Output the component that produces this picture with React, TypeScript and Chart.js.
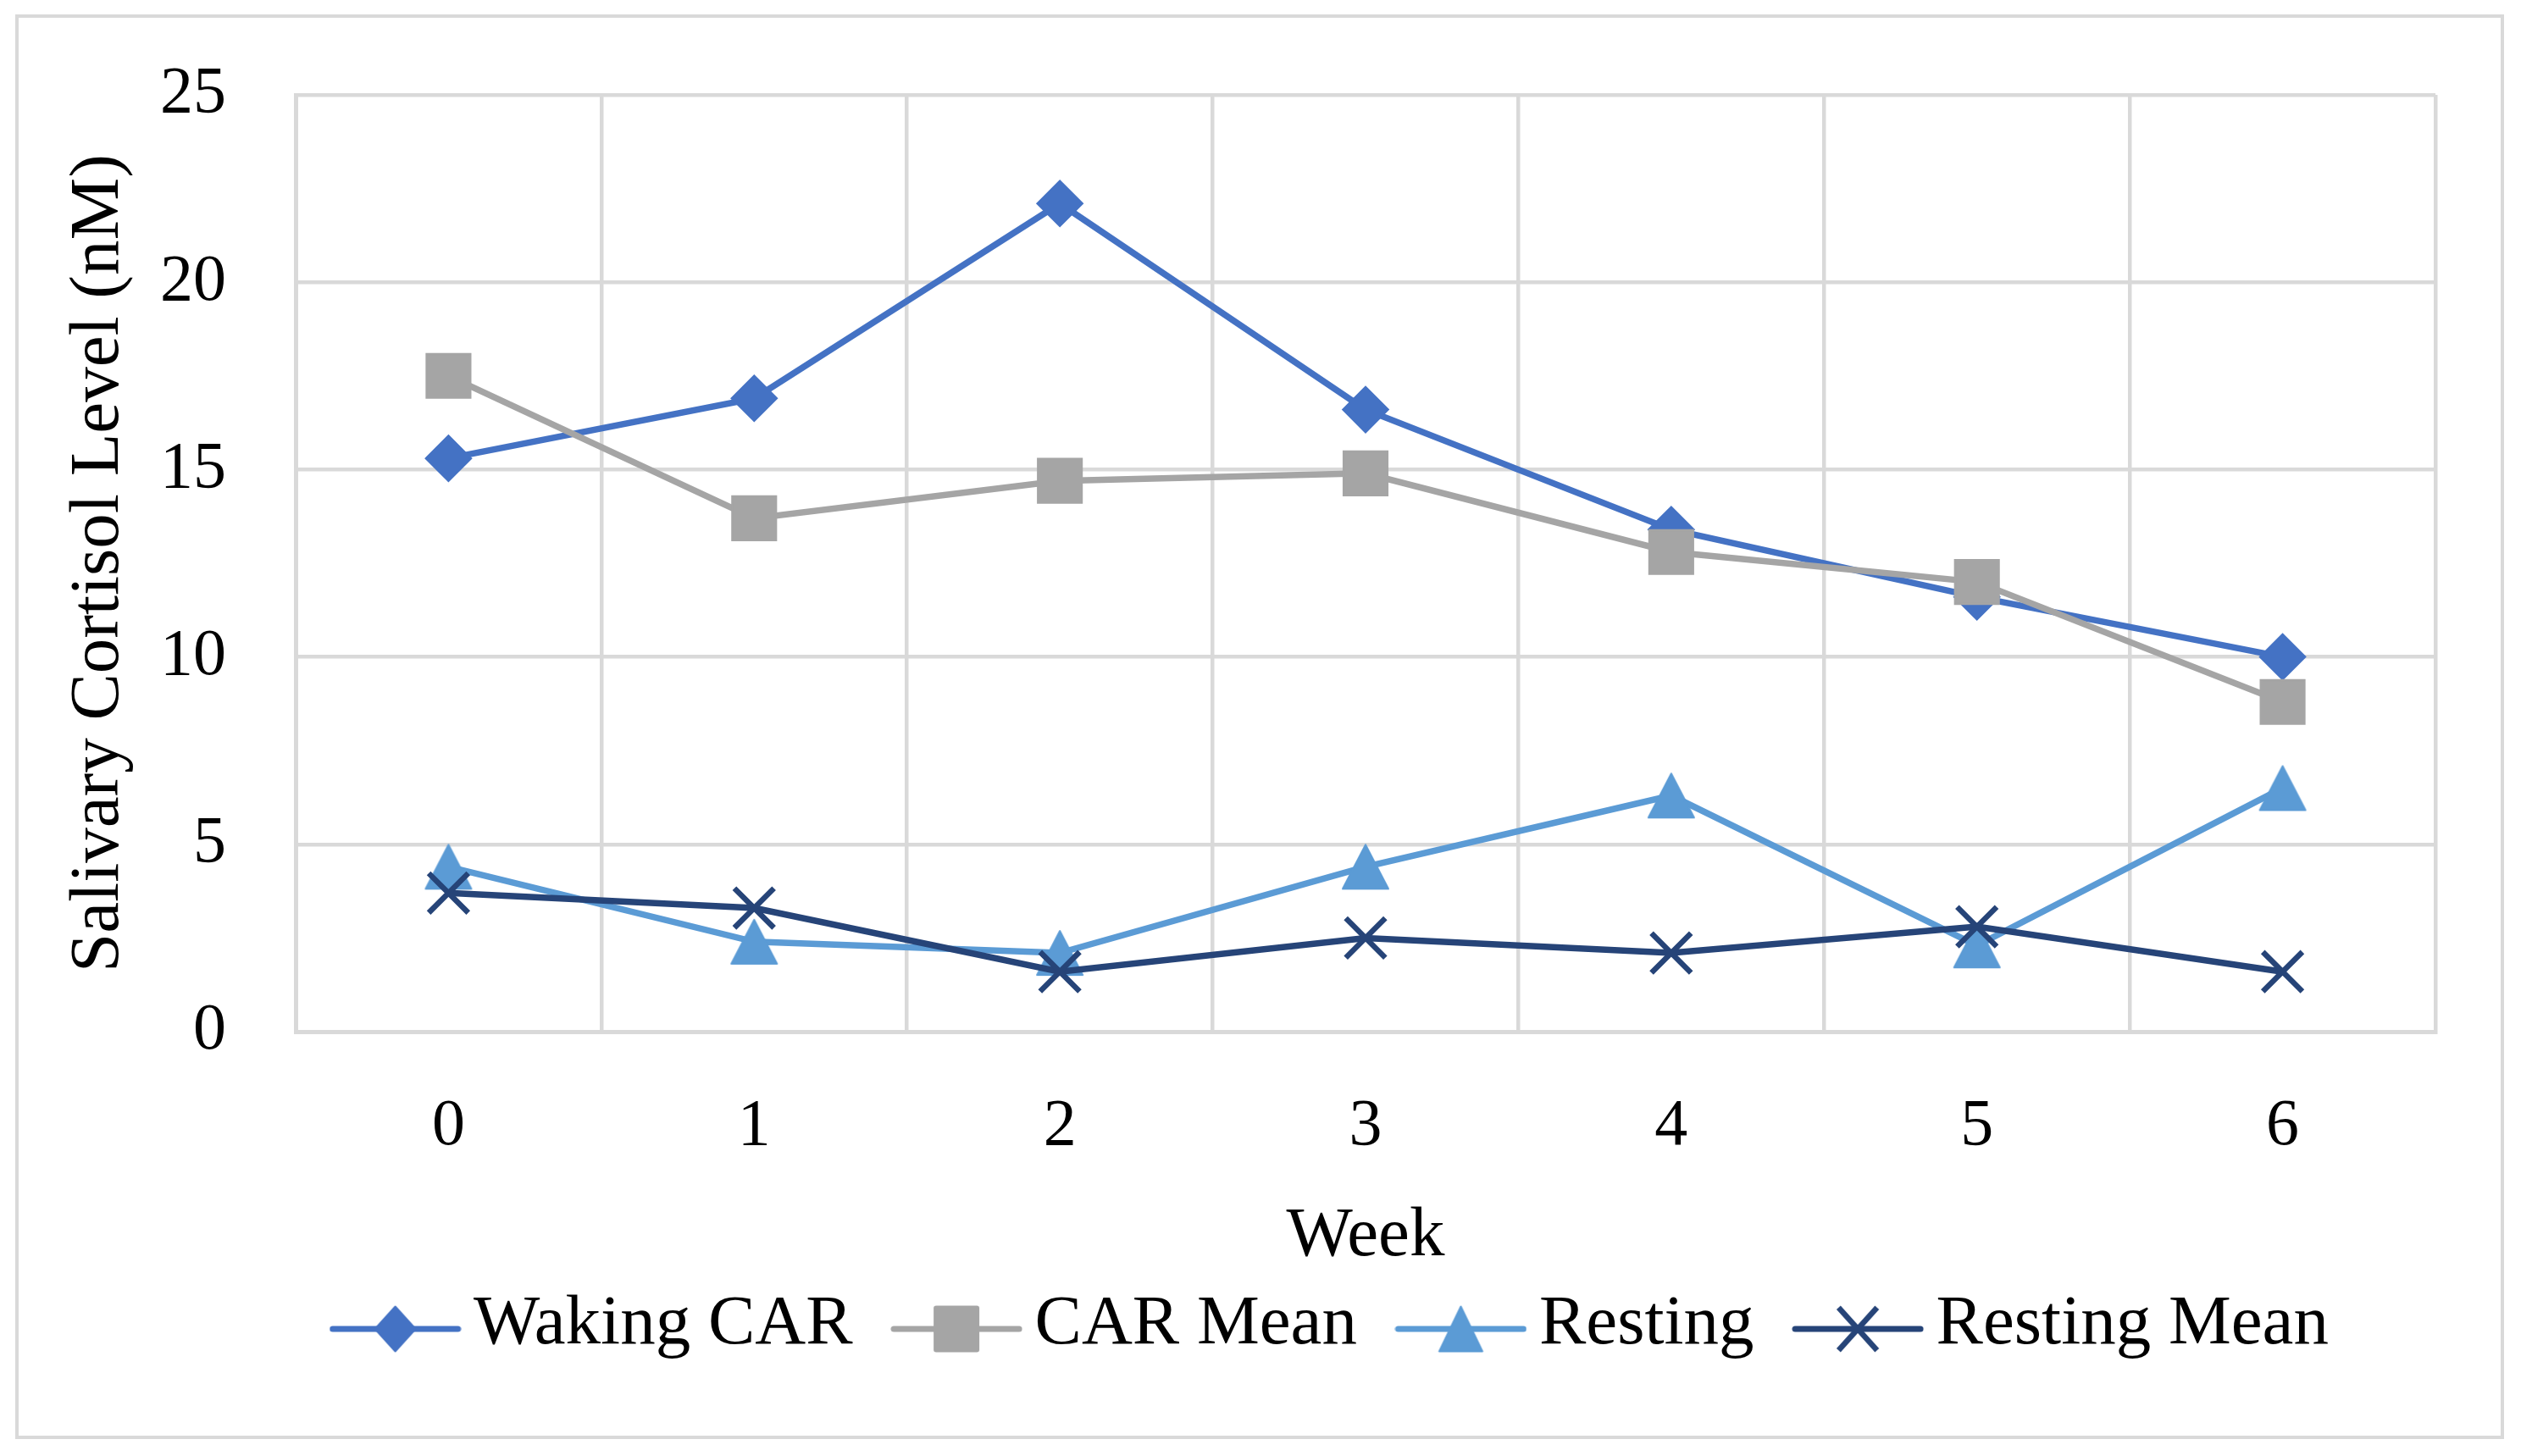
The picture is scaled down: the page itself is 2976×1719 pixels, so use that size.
import React, { useEffect, useRef } from 'react';
import { Chart, registerables } from 'chart.js';

Chart.register(...registerables);

// ---- data ----
const weeks = ['0', '1', '2', '3', '4', '5', '6'];
const wakingCAR = [15.3, 16.9, 22.1, 16.6, 13.4, 11.6, 10.0];
const carMean = [17.5, 13.7, 14.7, 14.9, 12.8, 12.0, 8.8];
const resting = [4.4, 2.4, 2.1, 4.4, 6.3, 2.3, 6.5];
const restingMean = [3.7, 3.3, 1.6, 2.5, 2.1, 2.8, 1.6];
const seriesNames = ['Waking CAR', 'CAR Mean', 'Resting', 'Resting Mean'];
const yAxisTitle = 'Salivary Cortisol Level (nM)';
const xAxisTitle = 'Week';

// ---- styles ----
const COLORS = ['#4472C4', '#A5A5A5', '#5B9BD5', '#264478'];
const FONT = '"Liberation Serif", "Times New Roman", serif';
const W = 2976;
const H = 1719;
const LEGEND_PAD = 71.5;
const LEGEND_FONT = 83;
const PLOT_BOTTOM = 1218;

type Kind = 'diamond' | 'square' | 'triangle' | 'cross';
const KINDS: Kind[] = ['diamond', 'square', 'triangle', 'cross'];

function drawMarker(ctx: CanvasRenderingContext2D, kind: Kind, color: string, cx: number, cy: number, w: number, h: number) {
  ctx.fillStyle = color;
  ctx.strokeStyle = color;
  ctx.lineJoin = 'round';
  if (kind === 'diamond') {
    ctx.lineWidth = 2;
    ctx.beginPath();
    ctx.moveTo(cx, cy - h / 2 + 1);
    ctx.lineTo(cx + w / 2 - 1, cy);
    ctx.lineTo(cx, cy + h / 2 - 1);
    ctx.lineTo(cx - w / 2 + 1, cy);
    ctx.closePath();
    ctx.fill();
    ctx.stroke();
  } else if (kind === 'square') {
    const r = 3;
    const x0 = cx - w / 2, y0 = cy - h / 2;
    ctx.beginPath();
    ctx.moveTo(x0 + r, y0);
    ctx.lineTo(x0 + w - r, y0);
    ctx.quadraticCurveTo(x0 + w, y0, x0 + w, y0 + r);
    ctx.lineTo(x0 + w, y0 + h - r);
    ctx.quadraticCurveTo(x0 + w, y0 + h, x0 + w - r, y0 + h);
    ctx.lineTo(x0 + r, y0 + h);
    ctx.quadraticCurveTo(x0, y0 + h, x0, y0 + h - r);
    ctx.lineTo(x0, y0 + r);
    ctx.quadraticCurveTo(x0, y0, x0 + r, y0);
    ctx.closePath();
    ctx.fill();
  } else if (kind === 'triangle') {
    ctx.beginPath();
    ctx.moveTo(cx, cy - h / 2 + 1);
    ctx.lineTo(cx + w / 2 - 1, cy + h / 2 - 1);
    ctx.lineTo(cx - w / 2 + 1, cy + h / 2 - 1);
    ctx.closePath();
    ctx.lineWidth = 2;
    ctx.fill();
    ctx.stroke();
  } else {
    ctx.lineWidth = 6.5;
    ctx.lineCap = 'butt';
    const hw = w / 2 - 2.3, hh = h / 2 - 2.3;
    ctx.beginPath();
    ctx.moveTo(cx - hw, cy - hh);
    ctx.lineTo(cx + hw, cy + hh);
    ctx.moveTo(cx + hw, cy - hh);
    ctx.lineTo(cx - hw, cy + hh);
    ctx.stroke();
  }
}

function makeLegendImage(kind: Kind, color: string): HTMLCanvasElement {
  const c = document.createElement('canvas');
  c.width = 156;
  c.height = 80;
  const ctx = c.getContext('2d')!;
  const cy = 45;
  ctx.strokeStyle = color;
  ctx.lineWidth = 7;
  ctx.lineCap = 'round';
  ctx.beginPath();
  ctx.moveTo(4, cy);
  ctx.lineTo(152, cy);
  ctx.stroke();
  const sizes: Record<Kind, [number, number]> = {
    diamond: [50, 55],
    square: [54, 55],
    triangle: [53, 55],
    cross: [50, 55],
  };
  const [w, h] = sizes[kind];
  drawMarker(ctx, kind, color, 78, cy, w, h);
  return c;
}

function makeTriangleImage(color: string): HTMLCanvasElement {
  const c = document.createElement('canvas');
  c.width = 60;
  c.height = 58;
  const ctx = c.getContext('2d')!;
  drawMarker(ctx, 'triangle', color, 30, 29, 56, 54);
  return c;
}

export default function App() {
  const ref = useRef<HTMLCanvasElement | null>(null);

  useEffect(() => {
    document.body.style.margin = '0';
    document.body.style.overflow = 'hidden';
    const canvas = ref.current;
    if (!canvas) return;

    const legendImages = KINDS.map((k, i) => makeLegendImage(k, COLORS[i]));
    const triImg = makeTriangleImage(COLORS[2]);
    const series = [wakingCAR, carMean, resting, restingMean];

    const framePlugin = {
      id: 'frame',
      beforeDraw(chart: any) {
        const ctx = chart.ctx;
        ctx.save();
        ctx.fillStyle = '#ffffff';
        ctx.fillRect(0, 0, chart.width, chart.height);
        ctx.strokeStyle = '#d9d9d9';
        ctx.lineWidth = 4;
        ctx.strokeRect(20, 19, 2934, 1678);
        ctx.restore();
      },
      afterLayout(chart: any) {
        const lg = chart.legend;
        if (!lg || !lg.lineWidths) return;
        const lw = lg.lineWidths[0];
        const w = lg.width;
        const h = lg.height;
        const desiredCursorX = 1569 - (lw - LEGEND_PAD - 26.5) / 2;
        const left = desiredCursorX - (w + LEGEND_PAD - lw) / 2;
        lg.left = left;
        lg.right = left + w;
        const top = 1564 - LEGEND_PAD - LEGEND_FONT / 2;
        lg.top = top;
        lg.bottom = top + h;
      },
    };

    const pointStyles: any[] = ['rectRot', 'rect', triImg, 'crossRot'];
    const pointRadii = [26.5, 36.5, 28, 33];
    const pointBorders = [2.5, 2.5, 0, 6.5];
    const orders = [4, 3, 2, 1];

    const chart = new Chart(canvas, {
      type: 'line',
      data: {
        labels: weeks,
        datasets: seriesNames.map((name, i) => ({
          label: name,
          data: series[i],
          borderColor: COLORS[i],
          backgroundColor: COLORS[i],
          borderWidth: 7.5,
          pointStyle: pointStyles[i],
          pointRadius: pointRadii[i],
          pointHoverRadius: pointRadii[i],
          pointBackgroundColor: COLORS[i],
          pointBorderColor: COLORS[i],
          pointBorderWidth: pointBorders[i],
          tension: 0,
          fill: false,
          order: orders[i],
        })),
      },
      options: {
        responsive: false,
        animation: false,
        maintainAspectRatio: false,
        layout: { padding: { left: 20, right: 101, top: 112, bottom: 0 } },
        plugins: {
          tooltip: { enabled: false },
          title: { display: false },
          legend: {
            display: true,
            position: 'bottom',
            labels: {
              usePointStyle: true,
              pointStyleWidth: 102,
              padding: LEGEND_PAD,
              color: '#000000',
              font: { family: FONT, size: LEGEND_FONT },
              generateLabels: () =>
                seriesNames.map((name, i) => ({
                  text: name,
                  datasetIndex: i,
                  pointStyle: legendImages[i],
                  fillStyle: 'rgba(0,0,0,0)',
                  strokeStyle: 'rgba(0,0,0,0)',
                  lineWidth: 0,
                  hidden: false,
                  fontColor: '#000000',
                })),
            },
          },
        },
        scales: {
          x: {
            type: 'category',
            offset: true,
            grid: { color: '#d9d9d9', lineWidth: 4.5, drawTicks: false, offset: true },
            border: { display: true, color: '#d9d9d9', width: 5 },
            ticks: { color: '#000000', font: { family: FONT, size: 78 }, padding: 66, maxRotation: 0 },
            title: {
              display: true,
              text: xAxisTitle,
              color: '#000000',
              font: { family: FONT, size: 83 },
              padding: { top: 0, bottom: 44 },
            },
            afterFit: (scale: any) => {
              const lg = scale.chart.legend;
              const lh = lg ? lg.height : 0;
              scale.height = H - PLOT_BOTTOM - lh;
            },
          },
          y: {
            type: 'linear',
            min: 0,
            max: 25,
            ticks: { stepSize: 5, color: '#000000', font: { family: FONT, size: 78 }, padding: 0 },
            grid: {
              color: '#d9d9d9',
              lineWidth: 4.5,
              drawTicks: true,
              tickLength: 82,
              tickColor: 'rgba(0,0,0,0)',
            },
            border: { display: true, color: '#d9d9d9', width: 5 },
            title: {
              display: true,
              text: yAxisTitle,
              color: '#000000',
              font: { family: FONT, size: 83 },
              padding: { top: 47, bottom: 0 },
            },
            afterFit: (scale: any) => {
              scale.width = 329;
            },
          },
        },
      },
      plugins: [framePlugin],
    } as any);

    return () => {
      chart.destroy();
    };
  }, []);

  return (
    <div style={{ width: W, height: H, background: '#fff' }}>
      <canvas ref={ref} width={W} height={H} style={{ width: W, height: H, display: 'block' }} />
    </div>
  );
}
